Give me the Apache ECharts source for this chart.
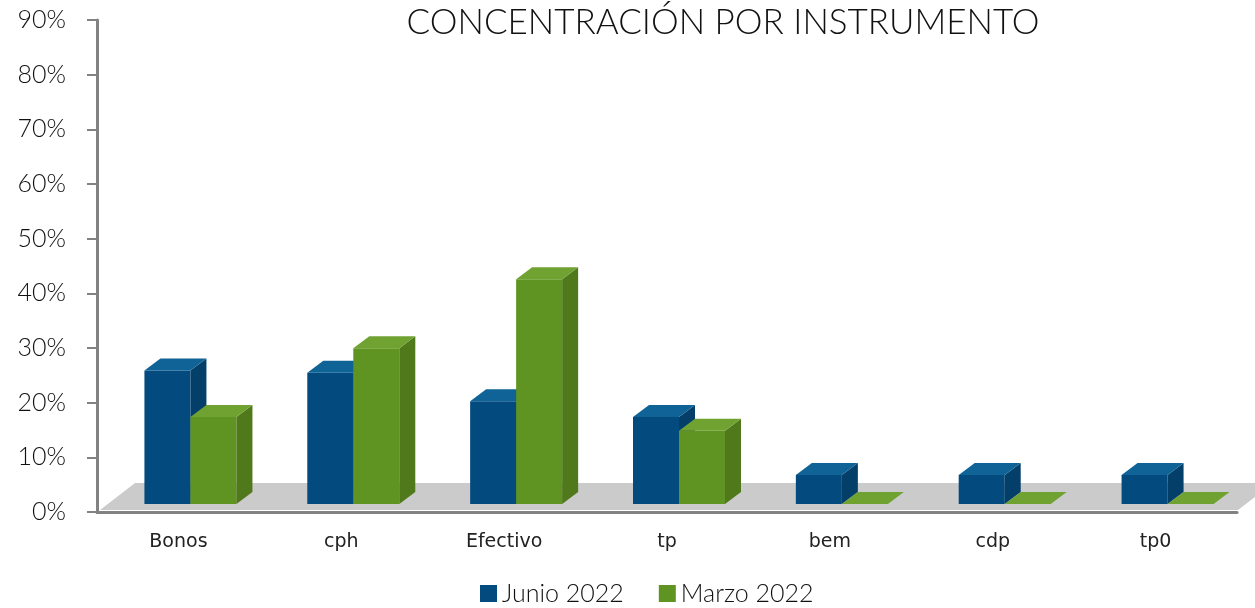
<!DOCTYPE html>
<html>
<head>
<meta charset="utf-8">
<script src="https://cdn.jsdelivr.net/npm/echarts@6/dist/echarts.min.js"></script>
<style>
  html, body { margin: 0; padding: 0; background: #fff; }
  #main { width: 1255px; height: 608px; }
</style>
</head>
<body>
<div id="main"></div>
<script>
const categories = ['Bonos', 'cph', 'Efectivo', 'tp', 'bem', 'cdp', 'tp0'];
const junio = [24.4, 24.0, 18.8, 15.9, 5.3, 5.3, 5.3];
const marzo = [15.9, 28.5, 41.1, 13.4, 0, 0, 0];
const yTicks = [0, 10, 20, 30, 40, 50, 60, 70, 80, 90];

// 3D look
const BAR_W = 46;
const DX = 16, DY = 12;      // depth of each bar
const LIFT = 8;              // bars sit slightly back on the floor
const PAIR_SHIFT = 12;
const FLOOR_DX = 35, FLOOR_DY = 27;

const faces = [
  { front: '#034a7e', top: '#0f6396', side: '#043f69' },
  { front: '#5f9423', top: '#70a232', side: '#50791c' }
];

const font = 'Lato, "Open Sans", sans-serif';

function barRenderer(idx) {
  return function (params, api) {
    const cat = api.value(0), v = api.value(1);
    const base = api.coord([cat, 0]);
    const h = api.size([0, v])[1];
    const x0 = base[0] + PAIR_SHIFT + (idx === 0 ? -BAR_W : 0);
    const x1 = x0 + BAR_W;
    const yb = base[1] - LIFT;
    const yt = yb - h;
    const c = faces[idx];
    const children = [];
    if (h > 0) {
      children.push({ type: 'rect', shape: { x: x0, y: yt, width: BAR_W, height: h }, style: { fill: c.front } });
      children.push({ type: 'polygon', shape: { points: [[x1, yt], [x1 + DX, yt - DY], [x1 + DX, yb - DY], [x1, yb]] }, style: { fill: c.side } });
    }
    children.push({ type: 'polygon', shape: { points: [[x0, yt], [x1, yt], [x1 + DX, yt - DY], [x0 + DX, yt - DY]] }, style: { fill: c.top } });
    return { type: 'group', children: children };
  };
}

function floorRenderer(params, api) {
  const cs = params.coordSys;
  const yf = cs.y + cs.height - 2;
  const xl = cs.x + 3, xr = cs.x + cs.width + 1;
  return {
    type: 'polygon',
    shape: { points: [[xl, yf], [xr, yf], [xr + FLOOR_DX, yf - FLOOR_DY], [xl + FLOOR_DX, yf - FLOOR_DY]] },
    style: { fill: '#cbcbcb' }
  };
}

const chart = echarts.init(document.getElementById('main'));
chart.setOption({
  animation: false,
  title: {
    text: 'CONCENTRACIÓN POR INSTRUMENTO',
    left: 718, top: 0, textAlign: 'center',
    textStyle: { fontFamily: font, fontWeight: 300, fontSize: 35, color: '#111' }
  },
  grid: { left: 97, right: 18, top: 20, bottom: 96 },
  legend: {
    top: 576, left: 475,
    icon: 'rect', itemWidth: 17, itemHeight: 17, itemGap: 35, itemStyle: { borderWidth: 0 },
    textStyle: { fontFamily: font, fontWeight: 300, fontSize: 25, color: '#111' },
    data: ['Junio 2022', 'Marzo 2022']
  },
  xAxis: {
    type: 'category',
    data: categories,
    axisLine: { lineStyle: { color: '#828282', width: 3 } },
    axisTick: { length: 9, lineStyle: { color: '#828282', width: 2 } },
    axisLabel: { margin: 21, fontFamily: '"DejaVu Sans", sans-serif', fontSize: 19, color: '#222' }
  },
  yAxis: {
    type: 'value',
    min: yTicks[0], max: yTicks[yTicks.length - 1], interval: 10,
    axisLine: { show: true, lineStyle: { color: '#828282', width: 3 } },
    axisTick: { show: true, length: 10, lineStyle: { color: '#828282', width: 2 } },
    splitLine: { show: false },
    axisLabel: { margin: 31, fontFamily: font, fontWeight: 300, fontSize: 25, color: '#111', formatter: '{value}%' }
  },
  series: [
    { type: 'custom', name: 'floor', z: 1, renderItem: floorRenderer, data: [[0, 0]], silent: true },
    { type: 'custom', name: 'Junio 2022', z: 2, itemStyle: { color: faces[0].front }, renderItem: barRenderer(0),
      data: junio.map((v, i) => [i, v]) },
    { type: 'custom', name: 'Marzo 2022', z: 3, itemStyle: { color: faces[1].front }, renderItem: barRenderer(1),
      data: marzo.map((v, i) => [i, v]) }
  ]
});
</script>
</body>
</html>
